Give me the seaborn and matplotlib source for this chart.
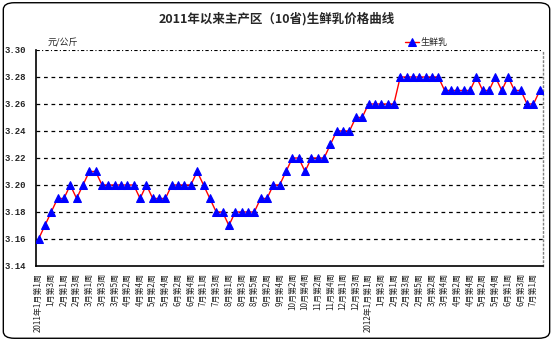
import matplotlib
matplotlib.use("Agg")
import matplotlib.pyplot as plt
import seaborn as sns
import pandas as pd
from matplotlib.patches import FancyBboxPatch

sns.set_theme(style="white")
plt.rcParams['font.family'] = ['Noto Sans CJK SC', 'DejaVu Sans']

title = "2011年以来主产区（10省)生鲜乳价格曲线"
unit = "元/公斤"
series_name = "生鲜乳"

prices = [3.16, 3.17, 3.18, 3.19, 3.19, 3.20, 3.19, 3.20, 3.21, 3.21,
          3.20, 3.20, 3.20, 3.20, 3.20, 3.20, 3.19, 3.20, 3.19, 3.19,
          3.19, 3.20, 3.20, 3.20, 3.20, 3.21, 3.20, 3.19, 3.18, 3.18,
          3.17, 3.18, 3.18, 3.18, 3.18, 3.19, 3.19, 3.20, 3.20, 3.21,
          3.22, 3.22, 3.21, 3.22, 3.22, 3.22, 3.23, 3.24, 3.24, 3.24,
          3.25, 3.25, 3.26, 3.26, 3.26, 3.26, 3.26, 3.28, 3.28, 3.28,
          3.28, 3.28, 3.28, 3.28, 3.27, 3.27, 3.27, 3.27, 3.27, 3.28,
          3.27, 3.27, 3.28, 3.27, 3.28, 3.27, 3.27, 3.26, 3.26, 3.27]

tick_labels = ["2011年1月第1周", "1月第3周", "2月第1周", "2月第3周", "3月第1周",
               "3月第3周", "3月第5周", "4月第2周", "4月第4周", "5月第2周",
               "5月第4周", "6月第2周", "6月第4周", "7月第1周", "7月第3周",
               "8月第1周", "8月第3周", "8月第5周", "9月第2周", "9月第4周",
               "10月第2周", "10月第4周", "11月第2周", "11月第4周", "12月第1周",
               "12月第3周", "2012年1月第1周", "1月第3周", "2月第1周", "2月第3周",
               "2月第5周", "3月第2周", "3月第4周", "4月第2周", "4月第4周",
               "5月第2周", "5月第4周", "6月第1周", "6月第3周", "7月第1周"]

y_ticks = [3.14, 3.16, 3.18, 3.20, 3.22, 3.24, 3.26, 3.28, 3.30]

df = pd.DataFrame({"week": range(len(prices)), "price": prices})

fig = plt.figure(figsize=(5.53, 3.41), dpi=100)
fig.patch.set_facecolor("white")
border = FancyBboxPatch((0.006, 0.008), 0.988, 0.984,
                        boxstyle="round,pad=0,rounding_size=0.02",
                        transform=fig.transFigure, fill=False,
                        edgecolor="black", linewidth=1.0)
fig.patches.append(border)

ax = fig.add_axes([36/553, 1-266/341, (543-36)/553, (266-50)/341])
for y in y_ticks[1:-1]:
    ax.axhline(y, color="black", linestyle=(0, (3, 3)), linewidth=0.9, zorder=1)
ax.axhline(3.30, color="black", linestyle=(0, (3, 2, 1, 2)), linewidth=0.8, zorder=1)

sns.lineplot(data=df, x="week", y="price", ax=ax, color="red", linewidth=1.0,
             marker="^", markersize=5.5, markerfacecolor="blue",
             markeredgecolor="blue", label=series_name, zorder=3)

ax.set_xlim(-0.4, 79.5)
ax.set_ylim(3.14, 3.30)
ax.set_yticks(y_ticks)
ax.set_yticklabels([f"{v:.2f}" for v in y_ticks], fontsize=6.5,
                   family=['Liberation Mono', 'DejaVu Sans'], fontweight="bold")
ax.set_xticks(list(range(0, len(prices), 2)))
ax.set_xticklabels(tick_labels, rotation=90, fontsize=5.8, va="top", ha="center")
ax.tick_params(axis="y", length=0, pad=7)
ax.tick_params(axis="x", length=0, pad=5)
ax.set_xlabel("")
ax.set_ylabel("")

for side in ["left", "bottom"]:
    ax.spines[side].set_color("black")
    ax.spines[side].set_linewidth(1.2)
ax.spines["top"].set_visible(False)
ax.spines["right"].set_color("gray")
ax.spines["right"].set_linestyle((0, (1, 2)))
ax.spines["right"].set_linewidth(1.0)

fig.text(0.5, 1-19/341, title, ha="center", va="center", fontsize=9,
         fontweight="bold")
fig.text(48/553, 1-43/341, unit, ha="left", va="center", fontsize=6.5,
         style="italic")

leg = ax.legend(loc="center left", bbox_to_anchor=(400/553, 1-43/341),
                bbox_transform=fig.transFigure, frameon=False, fontsize=6.5,
                handlelength=1.6, handletextpad=0.2, borderpad=0)

fig.savefig("out.png", dpi=100)
